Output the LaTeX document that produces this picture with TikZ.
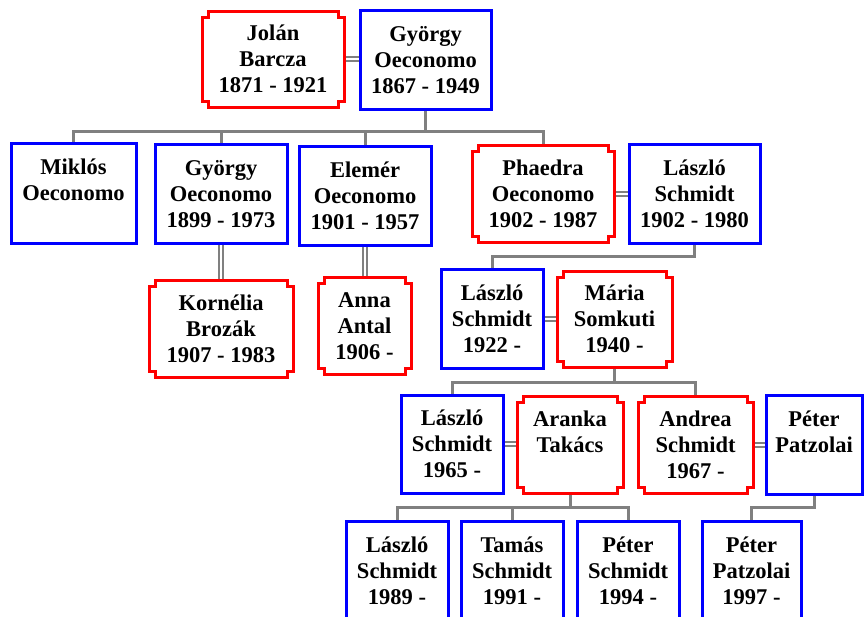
\documentclass[tikz,border=0pt]{standalone}
\usepackage{fontspec}
\setmainfont{Liberation Serif}
\usetikzlibrary{calc}
\pgfdeclarelayer{background}
\pgfsetlayers{background,main}

\definecolor{linkgray}{RGB}{128,128,128}
\definecolor{manblue}{RGB}{0,0,255}
\definecolor{womanred}{RGB}{255,0,0}

% every text line gets the same height, so all boxes share three line slots
\newcommand\boxstrut{\rule[-5.3pt]{0pt}{26pt}}
\newcommand\three[3]{\boxstrut#1\\\boxstrut#2\\\boxstrut#3}

% red frame with square notches cut into its four corners
\newcommand\notchframe[1]{%
  \draw[womanframe] let \p1=(#1.north west), \p2=(#1.south east) in
    (\x1+6pt,\y1) -- (\x2-6pt,\y1) -- (\x2-6pt,\y1-6pt) -- (\x2,\y1-6pt)
    -- (\x2,\y2+6pt) -- (\x2-6pt,\y2+6pt) -- (\x2-6pt,\y2) -- (\x1+6pt,\y2)
    -- (\x1+6pt,\y2+6pt) -- (\x1,\y2+6pt) -- (\x1,\y1-6pt) -- (\x1+6pt,\y1-6pt)
    -- cycle;}

\tikzset{
  person/.style={inner sep=0pt, outer sep=0pt, align=center, fill=white,
    font=\bfseries\fontsize{22.5}{26}\selectfont, line width=3pt},
  man/.style={person, draw=manblue},
  woman/.style={person},
  womanframe/.style={draw=womanred, line width=3pt, line join=miter},
  link/.style={draw=linkgray, line width=3pt},
  marriage/.style={draw=linkgray, line width=2pt, double=white, double distance=2pt},
}

\begin{document}
\begin{tikzpicture}[x=1pt, y=-1pt]
\useasboundingbox (0,0) rectangle (864,616);
\clip (0,0) rectangle (864,616);

% generation 1
\node[woman, minimum width=142, minimum height=96] (jolan) at (273,59)
  {\three{Jolán}{Barcza}{1871 - 1921}};
\node[man, minimum width=131, minimum height=99] (gy0) at (425.5,59.5)
  {\three{György}{Oeconomo}{1867 - 1949}};

% generation 2
\node[man, minimum width=125, minimum height=100] (miklos) at (73.5,193)
  {\three{Miklós}{Oeconomo}{}};
\node[man, minimum width=132, minimum height=99] (gy1) at (221,193.5)
  {\three{György}{Oeconomo}{1899 - 1973}};
\node[man, minimum width=132, minimum height=99] (elemer) at (365,195.5)
  {\three{Elemér}{Oeconomo}{1901 - 1957}};
\node[woman, minimum width=142, minimum height=97] (phaedra) at (543,193.5)
  {\three{Phaedra}{Oeconomo}{1902 - 1987}};
\node[man, minimum width=131, minimum height=99] (laszlo0) at (694.5,193.5)
  {\three{László}{Schmidt}{1902 - 1980}};

% spouses and generation 3
\node[woman, minimum width=144, minimum height=97] (kornelia) at (221,328.5)
  {\three{Kornélia}{Brozák}{1907 - 1983}};
\node[woman, minimum width=93, minimum height=97] (anna) at (364.5,325.5)
  {\three{Anna}{Antal}{1906 -}};
\node[man, minimum width=102, minimum height=99] (laszlo1) at (492,318.5)
  {\three{László}{Schmidt}{1922 -}};
\node[woman, minimum width=115, minimum height=96] (maria) at (614.5,319)
  {\three{Mária}{Somkuti}{1940 -}};

% generation 4
\node[man, minimum width=102, minimum height=98] (laszlo2) at (452,444)
  {\three{László}{Schmidt}{1965 -}};
\node[woman, minimum width=106, minimum height=97] (aranka) at (570,444.5)
  {\three{Aranka}{Takács}{}};
\node[woman, minimum width=115, minimum height=97] (andrea) at (695.5,444.5)
  {\three{Andrea}{Schmidt}{1967 -}};
\node[man, minimum width=96, minimum height=99] (peter0) at (814,444.5)
  {\three{Péter}{Patzolai}{}};

% generation 5
\node[man, minimum width=102, minimum height=99] (laszlo3) at (397,570.5)
  {\three{László}{Schmidt}{1989 -}};
\node[man, minimum width=102, minimum height=99] (tamas) at (512,570.5)
  {\three{Tamás}{Schmidt}{1991 -}};
\node[man, minimum width=102, minimum height=99] (peterS) at (628,570.5)
  {\three{Péter}{Schmidt}{1994 -}};
\node[man, minimum width=99, minimum height=99] (peterP) at (751.5,570.5)
  {\three{Péter}{Patzolai}{1997 -}};

\foreach \w in {jolan,phaedra,kornelia,anna,maria,aranka,andrea}
  {\notchframe{\w}}

% bus levels for the child lines
\coordinate (b1) at (425.5,131);
\coordinate (b2) at (694.5,256);
\coordinate (b3) at (614.5,382.5);
\coordinate (b4) at (570,507);

\begin{pgfonlayer}{background}
  % marriages
  \draw[marriage] (jolan.east) -- (jolan.east -| gy0.west);
  \draw[marriage] (phaedra.east) -- (phaedra.east -| laszlo0.west);
  \draw[marriage] (gy1.south) -- (kornelia.north);
  \draw[marriage] (elemer.south) -- (elemer.south |- anna.north);
  \draw[marriage] (laszlo1.east) -- (laszlo1.east -| maria.west);
  \draw[marriage] (laszlo2.east) -- (laszlo2.east -| aranka.west);
  \draw[marriage] (andrea.east) -- (andrea.east -| peter0.west);

  % children
  \draw[link] (gy0.south) -- (b1);
  \draw[link] (miklos.north) |- (b1) -| (phaedra.north);
  \draw[link] (gy1.north) -- (gy1.north |- b1);
  \draw[link] (elemer.north) -- (elemer.north |- b1);

  \draw[link] (laszlo0.south) -- (b2) -| (laszlo1.north);

  \draw[link] (maria.south) -- (b3);
  \draw[link] (laszlo2.north) |- (b3) -| (andrea.north);

  \draw[link] (aranka.south) -- (b4);
  \draw[link] (laszlo3.north) |- (b4) -| (peterS.north);
  \draw[link] (tamas.north) -- (tamas.north |- b4);

  \draw[link] (peter0.south) |- (peterP.north |- b4) -- (peterP.north);
\end{pgfonlayer}
\end{tikzpicture}
\end{document}
